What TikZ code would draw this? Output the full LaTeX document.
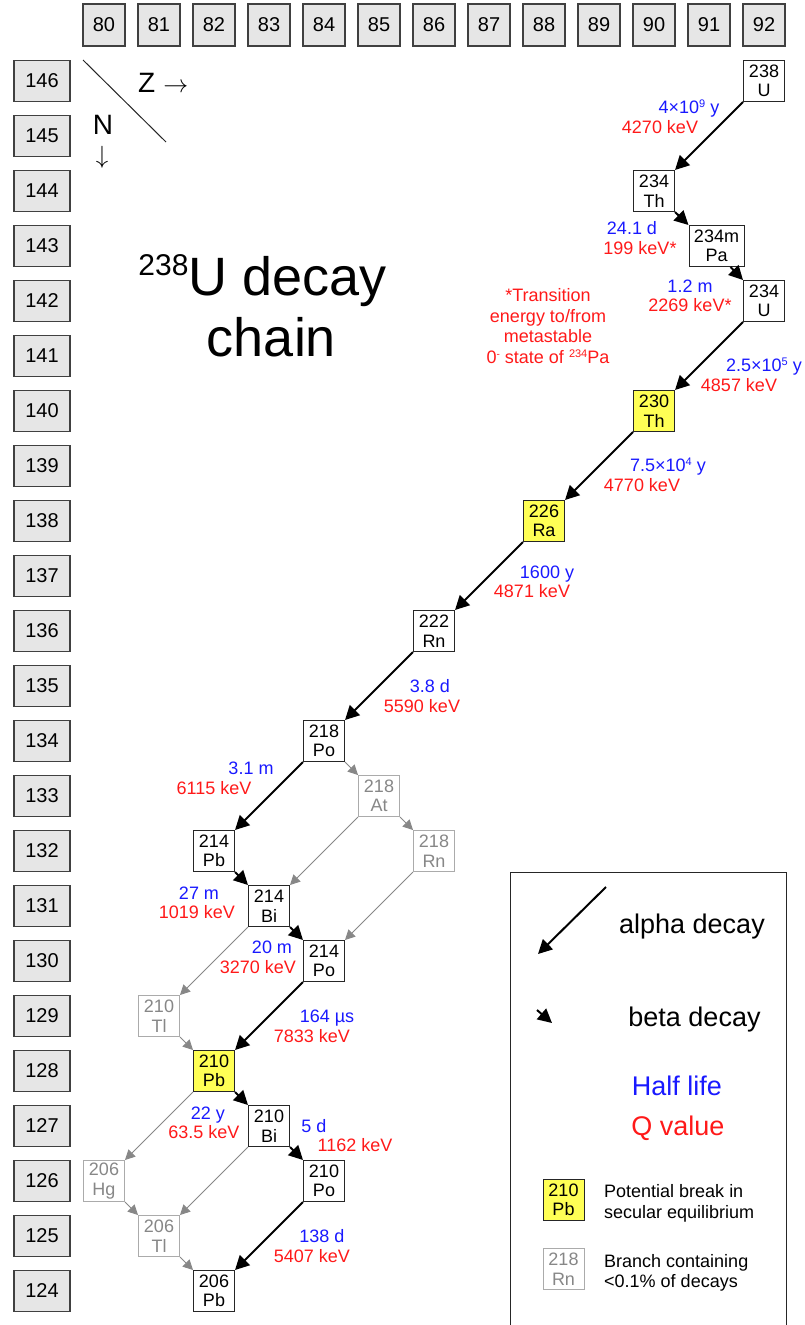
\documentclass[tikz,border=0pt]{standalone}
\usepackage{fontspec}
\setmainfont{Liberation Sans}
\usetikzlibrary{arrows.meta}

\definecolor{hlblue}{RGB}{25,25,255}
\definecolor{qred}{RGB}{255,25,25}
\definecolor{breakyellow}{RGB}{255,255,85}
\definecolor{headgray}{RGB}{230,230,230}

\begin{document}
\begin{tikzpicture}[x=1pt, y=-1pt, >={Triangle[length=14pt,width=14pt]},
    every node/.style={inner sep=0pt},
    headbox/.style={draw=black!75, fill=headgray, line width=1.1pt, minimum width=42pt, minimum height=42pt, font=\fontsize{20}{22}\selectfont},
    nbox/.style={headbox, minimum width=56pt, minimum height=41pt},
    nuc/.style={draw=black!85, fill=white, line width=1pt, minimum width=41pt, minimum height=41pt, align=center, font=\fontsize{18}{19.5}\selectfont},
    brk/.style={nuc, fill=breakyellow},
    rare/.style={nuc, draw=black!33, text=black!47},
    alphadecay/.style={->, line width=2pt},
    betadecay/.style={->, line width=2pt},
    raredecay/.style={-{Triangle[length=10pt,width=10pt]}, line width=0.9pt, draw=black!47},
    halflife/.style={anchor=base, text=hlblue, font=\fontsize{18}{20}\selectfont},
    qval/.style={halflife, text=qred},
    axislab/.style={font=\fontsize{28}{30}\selectfont},
    legbig/.style={anchor=base, font=\fontsize{27}{30}\selectfont},
    legsmall/.style={anchor=base west, font=\fontsize{18}{21}\selectfont}]

  \useasboundingbox (0,0) rectangle (805,1325);

  % Z and N scales
  \foreach \z in {80,...,92}
    \node[headbox] (z\z) at ({104+(\z-80)*55},25) {\z};
  \foreach \n in {124,...,146}
    \node[nbox] (n\n) at (42,{81+(146-\n)*55}) {\n};

  \coordinate (diag1) at (83,60);
  \coordinate (diag2) at (166,142);
  \draw[line width=1pt, black!85] (diag1) -- (diag2);
  \node[axislab, anchor=base west] (zlab) at (138,92) {Z\hspace{8pt}{\fontsize{24}{24}\selectfont$\rightarrow$}};
  \node[axislab, anchor=base] (nlab) at (103,134) {N};
  \node[axislab, anchor=base] (ndown) at (102,163) {\fontsize{24}{24}\selectfont$\downarrow$};

  % title
  \node[anchor=base, font=\fontsize{54}{61}\selectfont] (title1) at (262.5,295)
    {{\fontsize{30}{30}\selectfont\raisebox{20pt}{238}}U decay};
  \node[anchor=base, font=\fontsize{54}{61}\selectfont] (title2) at (271.5,356) {chain};

  % note on 234mPa
  \node[align=center, text=qred, font=\fontsize{18}{20.5}\selectfont] (note) at (548,326)
    {*Transition\\energy to/from\\metastable\\0\raisebox{6pt}{\fontsize{10}{10}\selectfont -} state of \raisebox{6pt}{\fontsize{11}{11}\selectfont 234}Pa};

  % nuclides
  \node[nuc] (U238) at (764,81) {238\\U};
  \node[nuc] (Th234) at (654,191) {234\\Th};
  \node[nuc, minimum width=55pt] (Pa234m) at (716.5,246) {234m\\Pa};
  \node[nuc] (U234) at (764,301) {234\\U};
  \node[brk] (Th230) at (654,411) {230\\Th};
  \node[brk] (Ra226) at (544,521) {226\\Ra};
  \node[nuc] (Rn222) at (434,631) {222\\Rn};
  \node[nuc] (Po218) at (324,741) {218\\Po};
  \node[rare] (At218) at (379,796) {218\\At};
  \node[rare] (Rn218) at (434,851) {218\\Rn};
  \node[nuc] (Pb214) at (214,851) {214\\Pb};
  \node[nuc] (Bi214) at (269,906) {214\\Bi};
  \node[nuc] (Po214) at (324,961) {214\\Po};
  \node[rare] (Tl210) at (159,1016) {210\\Tl};
  \node[brk] (Pb210) at (214,1071) {210\\Pb};
  \node[nuc] (Bi210) at (269,1126) {210\\Bi};
  \node[nuc] (Po210) at (324,1181) {210\\Po};
  \node[rare] (Hg206) at (104,1181) {206\\Hg};
  \node[rare] (Tl206) at (159,1236) {206\\Tl};
  \node[nuc] (Pb206) at (214,1291) {206\\Pb};

  % rare branches
  \draw[raredecay] (Po218.south east) -- (At218.north west);
  \draw[raredecay] (At218.south east) -- (Rn218.north west);
  \draw[raredecay] (At218.south west) -- (Bi214.north east);
  \draw[raredecay] (Rn218.south west) -- (Po214.north east);
  \draw[raredecay] (Bi214.south west) -- (Tl210.north east);
  \draw[raredecay] (Tl210.south east) -- (Pb210.north west);
  \draw[raredecay] (Pb210.south west) -- (Hg206.north east);
  \draw[raredecay] (Bi210.south west) -- (Tl206.north east);
  \draw[raredecay] (Hg206.south east) -- (Tl206.north west);
  \draw[raredecay] (Tl206.south east) -- (Pb206.north west);

  % main chain
  \draw[alphadecay] (U238.south west) -- (Th234.north east);
  \draw[betadecay] (Th234.south east) -- (Pa234m.north west);
  \draw[betadecay] ([xshift=-14pt]Pa234m.south east) -- (U234.north west);
  \draw[alphadecay] (U234.south west) -- (Th230.north east);
  \draw[alphadecay] (Th230.south west) -- (Ra226.north east);
  \draw[alphadecay] (Ra226.south west) -- (Rn222.north east);
  \draw[alphadecay] (Rn222.south west) -- (Po218.north east);
  \draw[alphadecay] (Po218.south west) -- (Pb214.north east);
  \draw[betadecay] (Pb214.south east) -- (Bi214.north west);
  \draw[betadecay] (Bi214.south east) -- (Po214.north west);
  \draw[alphadecay] (Po214.south west) -- (Pb210.north east);
  \draw[betadecay] (Pb210.south east) -- (Bi210.north west);
  \draw[betadecay] (Bi210.south east) -- (Po210.north west);
  \draw[alphadecay] (Po210.south west) -- (Pb206.north east);

  % half lives and Q values
  \node[halflife] (hlU238) at (689,113) {4×10\raisebox{6pt}{\fontsize{11}{11}\selectfont 9} y};
  \node[qval] (qU238) at (660,133) {4270 keV};
  \node[halflife] (hlTh234) at (632,234) {24.1 d};
  \node[qval] (qTh234) at (640,254) {199 keV*};
  \node[halflife] (hlPa234m) at (690,292) {1.2 m};
  \node[qval] (qPa234m) at (690,311) {2269 keV*};
  \node[halflife] (hlU234) at (764,371) {2.5×10\raisebox{6pt}{\fontsize{11}{11}\selectfont 5} y};
  \node[qval] (qU234) at (739,391) {4857 keV};
  \node[halflife] (hlTh230) at (668,471) {7.5×10\raisebox{6pt}{\fontsize{11}{11}\selectfont 4} y};
  \node[qval] (qTh230) at (642,491) {4770 keV};
  \node[halflife] (hlRa226) at (547,578) {1600 y};
  \node[qval] (qRa226) at (532,597) {4871 keV};
  \node[halflife] (hlRn222) at (430,692) {3.8 d};
  \node[qval] (qRn222) at (422,712) {5590 keV};
  \node[halflife] (hlPo218) at (251,774) {3.1 m};
  \node[qval] (qPo218) at (214,794) {6115 keV};
  \node[halflife] (hlPb214) at (199,899) {27 m};
  \node[qval] (qPb214) at (197,918) {1019 keV};
  \node[halflife] (hlBi214) at (272,953) {20 m};
  \node[qval] (qBi214) at (258,973) {3270 keV};
  \node[halflife] (hlPo214) at (327,1022) {164 µs};
  \node[qval] (qPo214) at (312,1042) {7833 keV};
  \node[halflife] (hlPb210) at (208,1119) {22 y};
  \node[qval] (qPb210) at (204,1138) {63.5 keV};
  \node[halflife] (hlBi210) at (314,1132) {5 d};
  \node[qval] (qBi210) at (355,1151) {1162 keV};
  \node[halflife] (hlPo210) at (322,1242) {138 d};
  \node[qval] (qPo210) at (312,1262) {5407 keV};

  % legend
  \draw[line width=1pt, black!85] (510,1326) -- (510,872) -- (786,872) -- (786,1326);
  \coordinate (legA1) at (606,887);
  \coordinate (legA2) at (538,954);
  \draw[alphadecay] (legA1) -- (legA2);
  \node[legbig] (legalpha) at (692,933) {alpha decay};
  \coordinate (legB1) at (537,1010);
  \coordinate (legB2) at (552,1023);
  \draw[betadecay] (legB1) -- (legB2);
  \node[legbig] (legbeta) at (694.5,1026) {beta decay};
  \node[legbig, text=hlblue] (leghl) at (677,1095) {Half life};
  \node[legbig, text=qred] (legq) at (678,1135) {Q value};
  \node[brk] (legbrk) at (563.5,1200) {210\\Pb};
  \node[legsmall] (legbrk1) at (604,1197) {Potential break in};
  \node[legsmall] (legbrk2) at (604,1218) {secular equilibrium};
  \node[rare] (legrare) at (563.5,1269) {218\\Rn};
  \node[legsmall] (legrare1) at (604,1267) {Branch containing};
  \node[legsmall] (legrare2) at (604,1287) {<0.1\% of decays};
\end{tikzpicture}
\end{document}
